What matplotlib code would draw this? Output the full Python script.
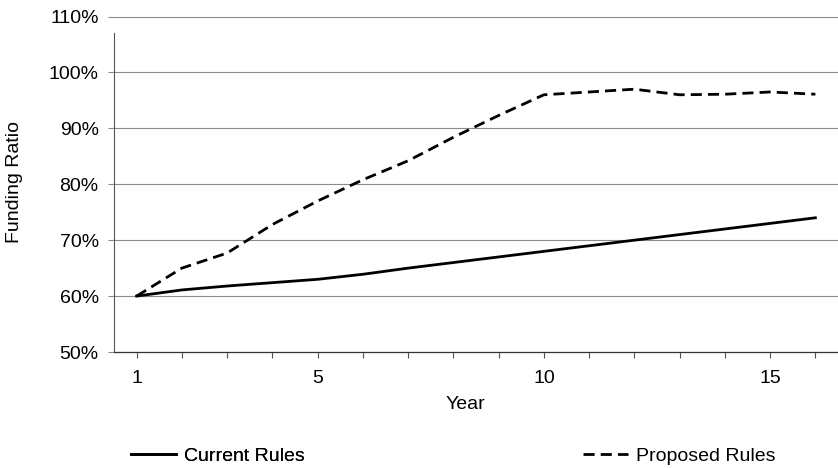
"""Funding ratio under current and proposed rules."""

import matplotlib

matplotlib.use("Agg")
import matplotlib.pyplot as plt
from matplotlib.ticker import FuncFormatter

years = list(range(1, 17))
current_rules = [60.0, 61.1, 61.8, 62.4, 63.0, 63.9, 65.0, 66.0, 67.0, 68.0,
                 69.0, 70.0, 71.0, 72.0, 73.0, 74.0]
proposed_rules = [60.0, 65.0, 67.7, 72.8, 77.0, 80.8, 84.2, 88.4, 92.3, 96.0,
                  96.5, 97.0, 96.0, 96.1, 96.5, 96.1]
y_ticks = [50, 60, 70, 80, 90, 100, 110]
x_ticklabels = {1: "1", 5: "5", 10: "10", 15: "15"}

plt.rcParams["font.family"] = ["Liberation Sans", "DejaVu Sans"]
FS = 14

fig = plt.figure(figsize=(8.38, 4.68), dpi=100)
ax = fig.add_axes([114 / 838, 1 - 352 / 468, 724 / 838, 335.5 / 468])

(h_cur,) = ax.plot(years, current_rules, color="black", lw=2.0, label="Current Rules")
(h_pro,) = ax.plot(years, proposed_rules, color="black", lw=2.0, ls=(0, (4, 2.2)),
                   label="Proposed Rules")

ax.set_xlim(0.5, 16.5)
ax.set_ylim(50, 110)
ax.set_yticks(y_ticks)
ax.yaxis.set_major_formatter(FuncFormatter(lambda v, _: f"{v:.0f}%"))
ax.set_xticks(years)
ax.set_xticklabels([x_ticklabels.get(y, "") for y in years])

ax.grid(axis="y", color="#8a8a8a", lw=0.8)
ax.set_axisbelow(True)
for side in ("top", "right"):
    ax.spines[side].set_visible(False)
ax.spines["left"].set_color("#555555")
ax.spines["left"].set_linewidth(0.8)
ax.spines["left"].set_bounds(50, 107)
ax.spines["bottom"].set_color("#333333")
ax.spines["bottom"].set_linewidth(0.9)

ax.tick_params(axis="x", length=4, width=0.8, color="#555555", pad=9, labelsize=FS)
ax.tick_params(axis="y", length=4, width=0.8, color="#8a8a8a", pad=7, labelsize=FS)

ax.set_xlabel("Year", fontsize=FS)
ax.xaxis.set_label_coords(0.485, -0.131)
ax.set_ylabel("Funding Ratio", fontsize=FS)
ax.yaxis.set_label_coords(-0.126, 0.508)

leg_kw = dict(frameon=False, fontsize=FS, handlelength=2.3, handletextpad=0.4,
              borderpad=0, borderaxespad=0, loc="center left")
leg1 = fig.legend(handles=[h_cur], bbox_to_anchor=(131 / 838, 1 - 456 / 468), **leg_kw)
fig.add_artist(leg1)
fig.legend(handles=[h_pro], bbox_to_anchor=(583 / 838, 1 - 456 / 468), **leg_kw)

fig.savefig("out.png", dpi=100)
